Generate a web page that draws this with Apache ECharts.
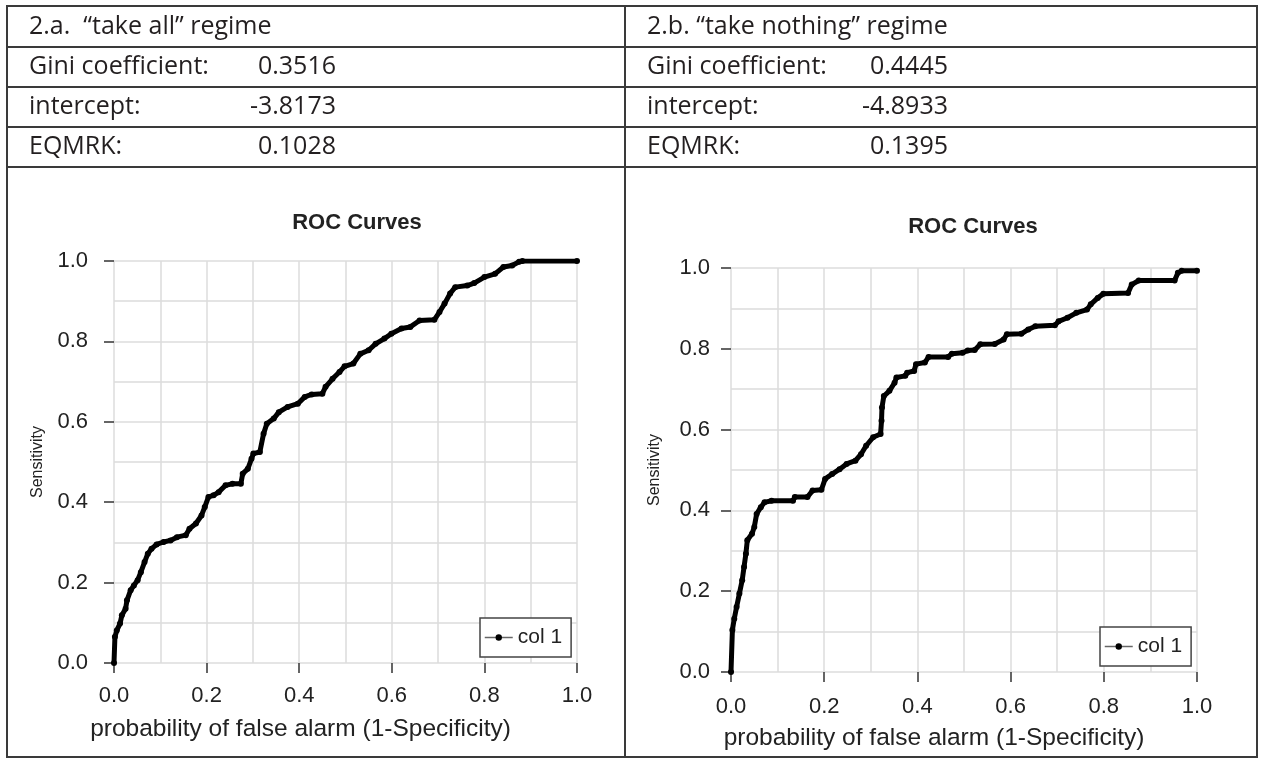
<!DOCTYPE html>
<html>
<head>
<meta charset="utf-8">
<script src="https://cdn.jsdelivr.net/npm/echarts@6/dist/echarts.min.js"></script>
<style>
    html, body { margin: 0; padding: 0; background: #fff; }
    #main { width: 1261px; height: 760px; }
</style>
</head>
<body>
<div id="main"></div>
<script>
    // table text
    var panelTitles = ['2.a.  \u201ctake all\u201d regime', '2.b. \u201ctake nothing\u201d regime'];
    var statNames = ['Gini coefficient:', 'intercept:', 'EQMRK:'];
    var statsTakeAll = ['0.3516', '-3.8173', '0.1028'];
    var statsTakeNothing = ['0.4445', '-4.8933', '0.1395'];

    // 2.a. "take all" ROC curve (1-specificity, sensitivity)
    var takeAllFpr = [0, 0.002, 0.006, 0.013, 0.017, 0.025, 0.028, 0.036, 0.043, 0.051, 0.058, 0.066, 0.073, 0.081, 0.092,
        0.107, 0.122, 0.136, 0.155, 0.163, 0.177, 0.189, 0.196, 0.204, 0.215, 0.226, 0.241, 0.256, 0.274, 0.278, 0.289,
        0.297, 0.301, 0.315, 0.323, 0.330, 0.345, 0.356, 0.375, 0.397, 0.412, 0.427, 0.450, 0.457, 0.472, 0.487, 0.498,
        0.517, 0.532, 0.550, 0.565, 0.584, 0.599, 0.621, 0.640, 0.660, 0.692, 0.703, 0.714, 0.726, 0.737, 0.763, 0.778,
        0.800, 0.823, 0.841, 0.860, 0.875, 0.882, 1.0];
    var takeAllTpr = [0, 0.065, 0.081, 0.098, 0.119, 0.135, 0.156, 0.181, 0.193, 0.206, 0.226, 0.251, 0.272, 0.284, 0.295,
        0.301, 0.305, 0.313, 0.318, 0.334, 0.347, 0.367, 0.388, 0.413, 0.417, 0.425, 0.442, 0.446, 0.446, 0.471, 0.483,
        0.508, 0.521, 0.525, 0.570, 0.595, 0.608, 0.624, 0.637, 0.645, 0.662, 0.668, 0.670, 0.687, 0.707, 0.724, 0.738,
        0.745, 0.769, 0.778, 0.794, 0.807, 0.819, 0.832, 0.836, 0.852, 0.854, 0.873, 0.894, 0.919, 0.935, 0.939, 0.945,
        0.960, 0.968, 0.985, 0.989, 0.998, 1.0, 1.0];

    // 2.b. "take nothing" ROC curve
    var takeNothingFpr = [0, 0.003, 0.007, 0.012, 0.018, 0.024, 0.028, 0.032, 0.035, 0.045, 0.050, 0.055, 0.064, 0.072,
        0.087, 0.133, 0.137, 0.164, 0.175, 0.194, 0.202, 0.217, 0.233, 0.248, 0.267, 0.279, 0.290, 0.305, 0.321, 0.323,
        0.324, 0.328, 0.340, 0.351, 0.355, 0.374, 0.378, 0.393, 0.397, 0.416, 0.424, 0.466, 0.474, 0.497, 0.508, 0.523,
        0.535, 0.566, 0.585, 0.592, 0.623, 0.638, 0.653, 0.695, 0.703, 0.722, 0.741, 0.764, 0.772, 0.787, 0.799, 0.852,
        0.860, 0.875, 0.952, 0.959, 0.967, 1.0];
    var takeNothingTpr = [0, 0.104, 0.132, 0.161, 0.194, 0.227, 0.260, 0.293, 0.326, 0.342, 0.359, 0.391, 0.408, 0.420,
        0.424, 0.424, 0.433, 0.433, 0.449, 0.451, 0.478, 0.490, 0.502, 0.515, 0.523, 0.539, 0.560, 0.581, 0.589, 0.622,
        0.655, 0.683, 0.696, 0.716, 0.729, 0.733, 0.741, 0.745, 0.762, 0.766, 0.780, 0.780, 0.788, 0.790, 0.796, 0.797,
        0.811, 0.812, 0.823, 0.836, 0.837, 0.848, 0.856, 0.858, 0.868, 0.877, 0.889, 0.897, 0.910, 0.926, 0.936, 0.938,
        0.959, 0.969, 0.969, 0.988, 0.993, 0.993];

    var seriesName = 'col 1';
    var chartTitle = 'ROC Curves';
    var xName = 'probability of false alarm (1-Specificity)';
    var yName = 'Sensitivity';

    function pairs(xs, ys) {
        var out = [];
        for (var i = 0; i < xs.length; i++) {
            out.push([xs[i], ys[i]]);
        }
        return out;
    }

    var FONT = '"Liberation Sans", Arial, sans-serif';
    var TABLE_FONT = '"Open Sans", "Noto Sans", sans-serif';
    var LINE = '#3a3a3a';
    var GRID = '#dcdcdc';

    // table frame + text
    var graphic = [];
    graphic.push({ type: 'rect', shape: { x: 7, y: 6, width: 1250, height: 751 },
        style: { fill: 'none', stroke: LINE, lineWidth: 2 }, silent: true });
    [47, 87, 127, 167].forEach(function (y) {
        graphic.push({ type: 'line', shape: { x1: 7, y1: y, x2: 1257, y2: y },
            style: { stroke: LINE, lineWidth: 2 }, silent: true });
    });
    graphic.push({ type: 'line', shape: { x1: 625, y1: 6, x2: 625, y2: 757 },
        style: { stroke: LINE, lineWidth: 2 }, silent: true });

    function cell(text, x, y, align) {
        graphic.push({ type: 'text', x: x, y: y, silent: true,
            style: { text: text, fill: '#231f20', fontSize: 25, fontFamily: TABLE_FONT,
                align: align || 'left', verticalAlign: 'middle' } });
    }
    var rowMid = [27, 67, 107, 147];
    var panels = [{ x: 29, valRight: 336, stats: statsTakeAll }, { x: 647, valRight: 948, stats: statsTakeNothing }];
    panels.forEach(function (p, k) {
        cell(panelTitles[k], p.x, rowMid[0]);
        for (var r = 0; r < statNames.length; r++) {
            cell(statNames[r], p.x, rowMid[r + 1]);
            cell(p.stats[r], p.valRight, rowMid[r + 1], 'right');
        }
    });

    function xAxis(gi, labelMargin, nameShift) {
        return {
            gridIndex: gi, type: 'value', min: 0, max: 1, interval: 0.2,
            axisLine: { show: false },
            axisTick: { show: true, length: 10, lineStyle: { color: '#333', width: 1.5 } },
            axisLabel: { fontSize: 22, fontFamily: FONT, color: '#222', margin: labelMargin,
                formatter: function (v) { return v.toFixed(1); } },
            splitLine: { show: true, lineStyle: { color: GRID, width: 1.5 } },
            minorTick: { show: false, splitNumber: 2 },
            minorSplitLine: { show: true, lineStyle: { color: GRID, width: 1.5 } },
            name: xName, nameLocation: 'middle', nameGap: 54,
            nameTextStyle: { fontSize: 24.5, fontFamily: FONT, color: '#222', padding: [0, nameShift, 0, 0] }
        };
    }
    function yAxis(gi, labelMargin) {
        return {
            gridIndex: gi, type: 'value', min: 0, max: 1, interval: 0.2,
            axisLine: { show: false },
            axisTick: { show: true, length: 10, lineStyle: { color: '#333', width: 1.5 } },
            axisLabel: { fontSize: 22, fontFamily: FONT, color: '#222', margin: labelMargin,
                formatter: function (v) { return v.toFixed(1); } },
            splitLine: { show: true, lineStyle: { color: GRID, width: 1.5 } },
            minorTick: { show: false, splitNumber: 2 },
            minorSplitLine: { show: true, lineStyle: { color: GRID, width: 1.5 } },
            name: yName, nameLocation: 'middle', nameRotate: 90, nameGap: 68,
            nameTextStyle: { fontSize: 16, fontFamily: FONT, color: '#222' }
        };
    }
    function legend(left, top) {
        return {
            data: [seriesName], left: left, top: top, orient: 'vertical',
            itemWidth: 28, itemHeight: 8, padding: [9, 9, 9, 4],
            borderColor: '#444', borderWidth: 1.5, borderRadius: 0, backgroundColor: '#fff',
            textStyle: { fontSize: 21, fontFamily: FONT, color: '#222' },
            lineStyle: { width: 1.5, color: '#666' },
            itemStyle: { color: '#000' },
            selectedMode: false
        };
    }
    function roc(gi, data) {
        return {
            type: 'line', name: seriesName, xAxisIndex: gi, yAxisIndex: gi, data: data,
            symbol: 'circle', symbolSize: 6, showAllSymbol: true,
            lineStyle: { color: '#000', width: 5 },
            itemStyle: { color: '#000' },
            emphasis: { disabled: true }
        };
    }

    var myChart = echarts.init(document.getElementById('main'));
    myChart.setOption({
        animation: false,
        backgroundColor: '#fff',
        title: [
            { text: chartTitle, left: 352, top: 207, textAlign: 'center',
                textStyle: { fontSize: 22, fontWeight: 'bold', fontFamily: FONT, color: '#222' } },
            { text: chartTitle, left: 968, top: 211, textAlign: 'center',
                textStyle: { fontSize: 22, fontWeight: 'bold', fontFamily: FONT, color: '#222' } }
        ],
        grid: [
            { left: 114, top: 261, width: 463, height: 402 },
            { left: 731, top: 268, width: 466, height: 404 }
        ],
        xAxis: [xAxis(0, 22, 90), xAxis(1, 24, 60)],
        yAxis: [yAxis(0, 26), yAxis(1, 21)],
        legend: [legend(480, 618), legend(1100, 627)],
        graphic: graphic,
        series: [
            roc(0, pairs(takeAllFpr, takeAllTpr)),
            roc(1, pairs(takeNothingFpr, takeNothingTpr))
        ]
    });
</script>
</body>
</html>
